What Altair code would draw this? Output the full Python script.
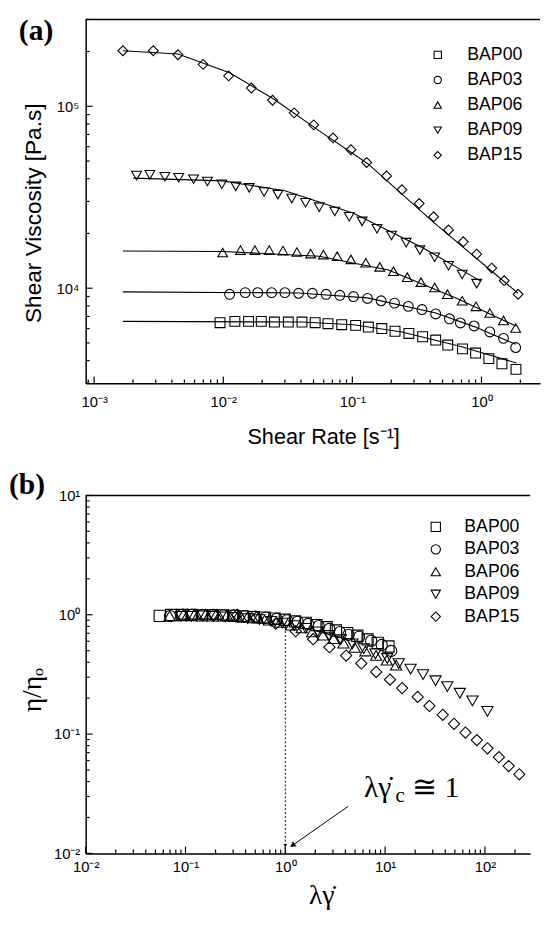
import altair as alt
import pandas as pd

NAMES = ["BAP00", "BAP03", "BAP06", "BAP09", "BAP15"]
SHAPES = ["square", "circle", "triangle-up", "triangle-down", "diamond"]

# ---------------- Panel (a): shear viscosity [Pa.s] vs shear rate [1/s] ----------------
a_x = {
    "BAP00": [9.44e-3, 1.23e-2, 1.57e-2, 1.97e-2, 2.49e-2, 3.19e-2, 4.07e-2, 5.15e-2, 6.47e-2, 8.27e-2, 0.106, 0.133,
              0.169, 0.214, 0.274, 0.350, 0.442, 0.548, 0.713, 0.90, 1.14, 1.44, 1.85],
    "BAP03": [1.12e-2, 1.48e-2, 1.85e-2, 2.37e-2, 3.0e-2, 3.83e-2, 4.90e-2, 6.26e-2, 8.0e-2, 0.102, 0.131, 0.167,
              0.212, 0.271, 0.346, 0.442, 0.565, 0.687, 0.877, 1.16, 1.48, 1.84],
    "BAP06": [9.9e-3, 1.36e-2, 1.76e-2, 2.27e-2, 2.90e-2, 3.72e-2, 4.75e-2, 5.97e-2, 7.62e-2, 9.75e-2, 0.127, 0.163,
              0.208, 0.266, 0.340, 0.434, 0.545, 0.709, 0.907, 1.16, 1.48, 1.84],
    "BAP09": [2.13e-3, 2.70e-3, 3.53e-3, 4.52e-3, 5.89e-3, 7.54e-3, 9.75e-3, 1.25e-2, 1.59e-2, 2.07e-2, 2.65e-2,
              3.39e-2, 4.34e-2, 5.54e-2, 7.31e-2, 9.46e-2, 0.119, 0.155, 0.201, 0.261, 0.333, 0.434, 0.555, 0.709, 0.918],
    "BAP15": [1.67e-3, 2.87e-3, 4.46e-3, 6.98e-3, 1.10e-2, 1.65e-2, 2.41e-2, 3.54e-2, 5.02e-2, 7.08e-2, 9.75e-2,
              0.129, 0.184, 0.242, 0.329, 0.426, 0.555, 0.722, 0.918, 1.20, 1.50, 1.92],
}
a_y = {
    "BAP00": [6.46e3, 6.57e3, 6.57e3, 6.57e3, 6.52e3, 6.52e3, 6.52e3, 6.46e3, 6.38e3, 6.30e3, 6.25e3, 6.12e3, 6.0e3,
              5.80e3, 5.64e3, 5.41e3, 5.19e3, 4.87e3, 4.64e3, 4.40e3, 4.10e3, 3.84e3, 3.58e3],
    "BAP03": [9.26e3, 9.46e3, 9.46e3, 9.46e3, 9.46e3, 9.38e3, 9.38e3, 9.26e3, 9.14e3, 9.0e3, 8.78e3, 8.53e3, 8.28e3,
              7.95e3, 7.63e3, 7.22e3, 6.79e3, 6.44e3, 6.2e3, 5.75e3, 5.30e3, 4.72e3],
    "BAP06": [1.57e4, 1.62e4, 1.62e4, 1.62e4, 1.61e4, 1.58e4, 1.55e4, 1.53e4, 1.50e4, 1.44e4, 1.38e4, 1.31e4, 1.24e4,
              1.15e4, 1.08e4, 1.01e4, 9.27e3, 8.53e3, 7.95e3, 7.31e3, 6.65e3, 6.05e3],
    "BAP09": [4.16e4, 4.20e4, 4.10e4, 4.05e4, 3.97e4, 3.86e4, 3.73e4, 3.63e4, 3.56e4, 3.38e4, 3.27e4, 3.11e4, 2.95e4,
              2.79e4, 2.64e4, 2.47e4, 2.33e4, 2.12e4, 1.95e4, 1.78e4, 1.62e4, 1.48e4, 1.33e4, 1.19e4, 1.06e4],
    "BAP15": [2.02e5, 2.02e5, 1.92e5, 1.70e5, 1.47e5, 1.26e5, 1.08e5, 9.2e4, 7.9e4, 6.70e4, 5.77e4, 4.91e4, 4.14e4,
              3.48e4, 2.92e4, 2.47e4, 2.09e4, 1.80e4, 1.54e4, 1.29e4, 1.10e4, 9.26e3],
}
# fitted curves
fit_x = {
    "BAP00": [1.67e-3, 4.07e-2, 0.102, 0.242, 0.692, 1.87],
    "BAP03": [1.67e-3, 3.83e-2, 0.131, 0.442, 0.877, 1.84],
    "BAP06": [1.67e-3, 9.9e-3, 5.54e-2, 0.190, 0.647, 1.84],
    "BAP09": [2.01e-3, 9.9e-3, 3.0e-2, 0.102, 0.350, 0.995],
    "BAP15": [1.67e-3, 4.46e-3, 1.12e-2, 2.49e-2, 5.54e-2, 0.131, 0.426, 1.20, 1.92],
}
fit_y = {
    "BAP00": [6.57e3, 6.52e3, 6.30e3, 5.75e3, 4.78e3, 3.88e3],
    "BAP03": [9.55e3, 9.42e3, 8.85e3, 7.31e3, 6.15e3, 4.92e3],
    "BAP06": [1.60e4, 1.59e4, 1.50e4, 1.26e4, 8.78e3, 6.2e3],
    "BAP09": [4.03e4, 3.89e4, 3.43e4, 2.58e4, 1.67e4, 1.09e4],
    "BAP15": [2.02e5, 1.94e5, 1.53e5, 1.09e5, 7.33e4, 4.85e4, 2.30e4, 1.24e4, 9.38e3],
}

# ---------------- Panel (b): eta/eta0 vs lambda*gamma_dot ----------------
b_x = {
    "BAP00": [0.0552, 0.0720, 0.0918, 0.115, 0.146, 0.187, 0.238, 0.301, 0.378, 0.484, 0.620, 0.778, 0.989, 1.25,
              1.60, 2.05, 2.59, 3.21, 4.17, 5.27, 6.67, 8.42, 10.8],
    "BAP03": [0.070, 0.0925, 0.116, 0.148, 0.1875, 0.239, 0.306, 0.391, 0.50, 0.638, 0.819, 1.04, 1.33, 1.69, 2.16,
              2.76, 3.53, 4.29, 5.48, 7.25, 9.25, 11.5],
    "BAP06": [0.0693, 0.0952, 0.123, 0.159, 0.203, 0.260, 0.333, 0.418, 0.533, 0.683, 0.889, 1.14, 1.46, 1.86, 2.38,
              3.04, 3.82, 4.96, 6.35, 8.12, 10.4, 12.9],
    "BAP09": [0.09, 0.115, 0.15, 0.19, 0.25, 0.32, 0.42, 0.55, 0.72, 0.94, 1.23, 1.6, 2.1, 2.75, 3.6, 4.7, 6.1,
              8.0, 10.5, 13.7, 18.0, 24.0, 32.0, 42.0, 56.0, 75.0, 106.0],
    "BAP15": [0.192, 0.330, 0.513, 0.803, 1.27, 1.90, 2.77, 4.07, 5.77, 8.14, 11.2, 14.8, 21.2, 27.8, 37.8, 49.0,
              63.8, 83.0, 106.0, 138.0, 173.0, 221.0],
}
b_y = {
    "BAP00": [0.979, 0.995, 0.995, 0.995, 0.988, 0.988, 0.988, 0.979, 0.967, 0.955, 0.947, 0.927, 0.909, 0.879,
              0.855, 0.820, 0.786, 0.738, 0.703, 0.667, 0.621, 0.582, 0.542],
    "BAP03": [0.975, 0.996, 0.996, 0.996, 0.996, 0.987, 0.987, 0.975, 0.962, 0.947, 0.924, 0.898, 0.872, 0.837,
              0.803, 0.760, 0.715, 0.678, 0.653, 0.605, 0.558, 0.497],
    "BAP06": [0.981, 1.013, 1.013, 1.013, 1.006, 0.988, 0.969, 0.956, 0.938, 0.900, 0.863, 0.819, 0.775, 0.719,
              0.675, 0.631, 0.579, 0.533, 0.497, 0.457, 0.416, 0.378],
    "BAP09": [0.97, 0.97, 0.98, 0.97, 0.96, 0.95, 0.93, 0.91, 0.88, 0.85, 0.81, 0.77, 0.72, 0.67, 0.62, 0.57, 0.52,
              0.47, 0.43, 0.39, 0.35, 0.315, 0.28, 0.25, 0.22, 0.19, 0.155],
    "BAP15": [1.0, 1.0, 0.950, 0.842, 0.728, 0.624, 0.535, 0.455, 0.391, 0.332, 0.286, 0.243, 0.205, 0.172, 0.145,
              0.122, 0.103, 0.089, 0.076, 0.064, 0.054, 0.046],
}

A_XDOM = [8.6e-4, 2.84]
A_YDOM = [3000, 300000]
B_XDOM = [0.01, 284]
B_YDOM = [0.01, 10]

SANS = "Liberation Sans"
SERIF = "Liberation Serif"
SUP = {"-": "\u207b", "0": "\u2070", "1": "\u00b9", "2": "\u00b2", "3": "\u00b3", "4": "\u2074", "5": "\u2075"}


def sup(e):
    return "".join(SUP[c] for c in str(e))


def label_expr(exps):
    conds = [f"(round(log(datum.value)/LN10) == {e}) ? '10{sup(e)}'" for e in exps]
    return " : ".join(conds) + " : ''"


def long_df(xd, yd):
    rows = []
    for k in NAMES:
        for xv, yv in zip(xd[k], yd[k]):
            rows.append({"series": k, "x": xv, "y": yv})
    return pd.DataFrame(rows)


def decade_ticks(lo_e, hi_e, dom):
    major = [10.0 ** e for e in range(lo_e, hi_e + 1) if dom[0] <= 10.0 ** e <= dom[1]]
    minor = [m * 10.0 ** e for e in range(lo_e - 1, hi_e + 1) for m in range(2, 10)
             if dom[0] <= m * 10.0 ** e <= dom[1]]
    return major, minor


DUMMY = pd.DataFrame({"d": [0]})


def text_layer(txt, x, y, font, size, weight="normal", align="left", angle=0, baseline="middle"):
    return alt.Chart(DUMMY).mark_text(font=font, fontSize=size, fontWeight=weight, align=align,
                                      baseline=baseline, angle=angle, color="black").encode(
        x=alt.value(x), y=alt.value(y), text=alt.value(txt))


def panel(pts, fits, xdom, ydom, W, H, xexp, yexp, xlabpad, ylabpad, yext, msize, leg, extra):
    X = alt.X("x:Q", scale=alt.Scale(type="log", domain=xdom, nice=False),
              axis=alt.Axis(values=[10.0 ** e for e in xexp], labelExpr=label_expr(xexp), ticks=False, tickSize=0,
                            grid=False, domainColor="black", domainWidth=1.5, labelFont=SANS, labelFontSize=15,
                            labelColor="black", labelPadding=xlabpad, labelFlush=False, labelOverlap=False, title=None))
    Y = alt.Y("y:Q", scale=alt.Scale(type="log", domain=ydom, nice=False),
              axis=alt.Axis(values=[10.0 ** e for e in yexp], labelExpr=label_expr(yexp), ticks=False, tickSize=0,
                            grid=False, domainColor="black", domainWidth=1.5, labelFont=SANS, labelFontSize=15,
                            labelColor="black", labelPadding=ylabpad, labelFlush=False, labelOverlap=False, title=None,
                            minExtent=yext, maxExtent=yext))
    layers = []
    if fits is not None:
        layers.append(alt.Chart(fits).mark_line(color="black", strokeWidth=1.1).encode(x=X, y=Y, detail="series:N"))
    layers.append(alt.Chart(pts).mark_point(filled=False, color="black", strokeWidth=1.1, size=msize, opacity=1).encode(
        x=X, y=Y, shape=alt.Shape("series:N", scale=alt.Scale(domain=NAMES, range=SHAPES), legend=None)))
    xmaj, xmin_ = decade_ticks(min(xexp), max(xexp), xdom)
    ymaj, ymin_ = decade_ticks(min(yexp), max(yexp), ydom)
    layers.append(alt.Chart(pd.DataFrame({"x": xmaj})).mark_rule(color="black", strokeWidth=1.2).encode(
        x=X, y=alt.value(H), y2=alt.value(H - 7)))
    layers.append(alt.Chart(pd.DataFrame({"x": xmin_})).mark_rule(color="black", strokeWidth=1.2).encode(
        x=X, y=alt.value(H), y2=alt.value(H - 4)))
    layers.append(alt.Chart(pd.DataFrame({"y": ymaj})).mark_rule(color="black", strokeWidth=1.2).encode(
        y=Y, x=alt.value(0), x2=alt.value(7)))
    layers.append(alt.Chart(pd.DataFrame({"y": ymin_})).mark_rule(color="black", strokeWidth=1.2).encode(
        y=Y, x=alt.value(0), x2=alt.value(4)))
    layers.append(alt.Chart(DUMMY).mark_rule(color="black", strokeWidth=1.5).encode(
        x=alt.value(0), x2=alt.value(W), y=alt.value(0)))
    sx, lx, y0, dy, lsize = leg
    for i, (nm, sh) in enumerate(zip(NAMES, SHAPES)):
        layers.append(alt.Chart(DUMMY).mark_point(filled=False, color="black", strokeWidth=1.1, size=lsize,
                                                  opacity=1).encode(
            x=alt.value(sx), y=alt.value(y0 + i * dy), shape=alt.value(sh)))
        layers.append(text_layer(nm, lx, y0 + i * dy, SANS, 18))
    layers.extend(extra(X, Y))
    return alt.layer(*layers).properties(width=W, height=H)


WA, HA = 462, 370
WB, HB = 452, 364


def extra_a(X, Y):
    return [
        text_layer("(a)", -68, 12, SERIF, 30, weight="bold"),
        text_layer("Shear Viscosity [Pa.s]", -52, 197, SANS, 23, align="center", angle=270),
        text_layer("Shear Rate [s\u207b\u00b9]", 242, 425, SANS, 22, align="center"),
    ]


def extra_b(X, Y):
    return [
        text_layer("(b)", -78, -10, SERIF, 30, weight="bold"),
        text_layer("\u03b7/\u03b7\u2092", -53, 198, SERIF, 28, align="center", angle=270),
        text_layer("\u03bb\u03b3\u0307", 240, 407, SERIF, 28, align="center"),
        alt.Chart(pd.DataFrame({"x": [1.0], "y": [0.01], "y2": [0.78]})).mark_rule(
            color="black", strokeWidth=1, strokeDash=[2, 2]).encode(x=X, y=Y, y2="y2:Q"),
        alt.Chart(pd.DataFrame({"x": [4.27, 1.2], "y": [0.0248, 0.0118]})).mark_line(
            color="black", strokeWidth=1).encode(x=X, y=Y),
        alt.Chart(pd.DataFrame({"x": [1.2], "y": [0.0118]})).mark_point(
            shape="triangle", filled=True, color="black", size=40, angle=235, opacity=1).encode(x=X, y=Y),
        alt.Chart(pd.DataFrame({"x": [1.0], "y": [0.0116]})).mark_point(
            shape="triangle-down", filled=True, color="black", size=15, opacity=1).encode(x=X, y=Y),
        text_layer("\u03bb\u03b3\u0307", 283, 298, SERIF, 30),
        text_layer("c", 315, 306, SERIF, 21),
        text_layer("\u2245 1", 332, 298, SERIF, 30),
    ]


chart_a = panel(long_df(a_x, a_y), long_df(fit_x, fit_y), A_XDOM, A_YDOM, WA, HA, [-3, -2, -1, 0], [4, 5],
                12, 7, 30, 100, (358, 388, 36, 25.5, 55), extra_a)
chart_b = panel(long_df(b_x, b_y), None, B_XDOM, B_YDOM, WB, HB, [-2, -1, 0, 1, 2], [-2, -1, 0, 1],
                6, 6, 40, 130, (356, 385, 32, 22.8, 90), extra_b)

chart = alt.vconcat(chart_a, chart_b, spacing=23).properties(
    padding={"left": 1, "top": 1, "right": 0, "bottom": 0}, background="white"
).configure_view(stroke=None)

chart.save("out.html", embed_options={"renderer": "svg", "actions": False})
